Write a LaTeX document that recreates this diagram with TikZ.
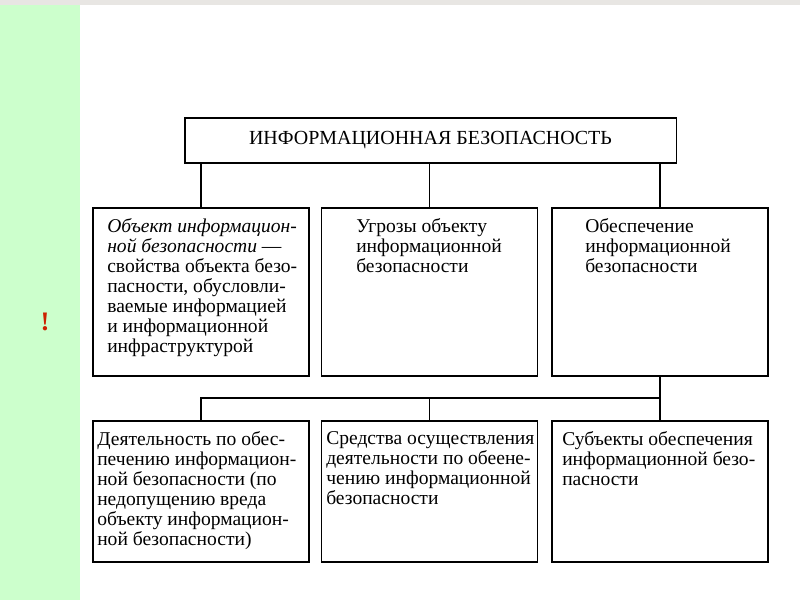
\documentclass[tikz,border=0pt]{standalone}
\usepackage{fontspec}
\setmainfont{Liberation Serif}
\definecolor{verde}{HTML}{CCFFCC}
\definecolor{grigio}{HTML}{E8E6E3}
\definecolor{rosso}{HTML}{CC2200}
\begin{document}
\begin{tikzpicture}[x=0.025cm,y=0.025cm,
  riquadro/.style={draw, line width=0.8pt, minimum width=5.4cm, minimum height=4.2cm, inner sep=0},
  basso/.style={riquadro, minimum height=3.525cm},
  testo/.style={anchor=north west, inner sep=0, align=left, font=\fontsize{13.9}{14.2}\selectfont}]
% Sfondo
\fill[white] (0,0) rectangle (800,600);
\fill[verde] (0,0) rectangle (80,595);
\fill[grigio] (0,595) rectangle (800,600);
\useasboundingbox (0,0) rectangle (800,600);
\node (punto) at (45,278) [text=rosso, font=\fontsize{19}{20}\selectfont\bfseries] {!};

% Titolo
\node (ib) at (430.5,459.5) [draw, line width=0.8pt, minimum width=12.275cm, minimum height=1.125cm,
  font=\fontsize{14.2}{15}\selectfont] {ИНФОРМАЦИОННАЯ БЕЗОПАСНОСТЬ};

% Primo livello
\node (ob1) at (201,308) [riquadro] {};
\node (ob2) at (429.5,308) [riquadro] {};
\node (ob3) at (660,308) [riquadro] {};
\node (t1) at (107,382) [testo] {\textit{Объект информацион-}\\\textit{ной безопасности} —\\свойства объекта безо-\\пасности, обусловли-\\ваемые информацией\\и информационной\\инфраструктурой};
\node (t2) at (356,382) [testo] {Угрозы объекту\\информационной\\безопасности};
\node (t3) at (585,382) [testo] {Обеспечение\\информационной\\безопасности};
\draw[line width=0.8pt] (ob1.north) -- (ob1.north |- ib.south);
\draw[line width=0.8pt] (ob2.north) -- (ob2.north |- ib.south);
\draw[line width=0.8pt] (ob3.north) -- (ob3.north |- ib.south);

% Secondo livello
\node (sr4) at (201,108.5) [basso] {};
\node (sr5) at (429.5,108.5) [basso] {};
\node (sr6) at (660,108.5) [basso] {};
\node (t4) at (97,169) [testo] {Деятельность по обес-\\печению информацион-\\ной безопасности (по\\недопущению вреда\\объекту информацион-\\ной безопасности)};
\node (t5) at (326,169) [testo] {Средства осуществления\\деятельности по обеене-\\чению информационной\\безопасности};
\node (t6) at (562,169) [testo] {Субъекты обеспечения\\информационной безо-\\пасности};
\coordinate (bus) at (0,202);
\draw[line width=0.8pt] (ob3.south) -- (sr6.north);
\draw[line width=0.8pt] (sr4.north) -- (sr4.north |- bus) -- (sr6.north |- bus);
\draw[line width=0.8pt] (sr5.north) -- (sr5.north |- bus);
\end{tikzpicture}
\end{document}
